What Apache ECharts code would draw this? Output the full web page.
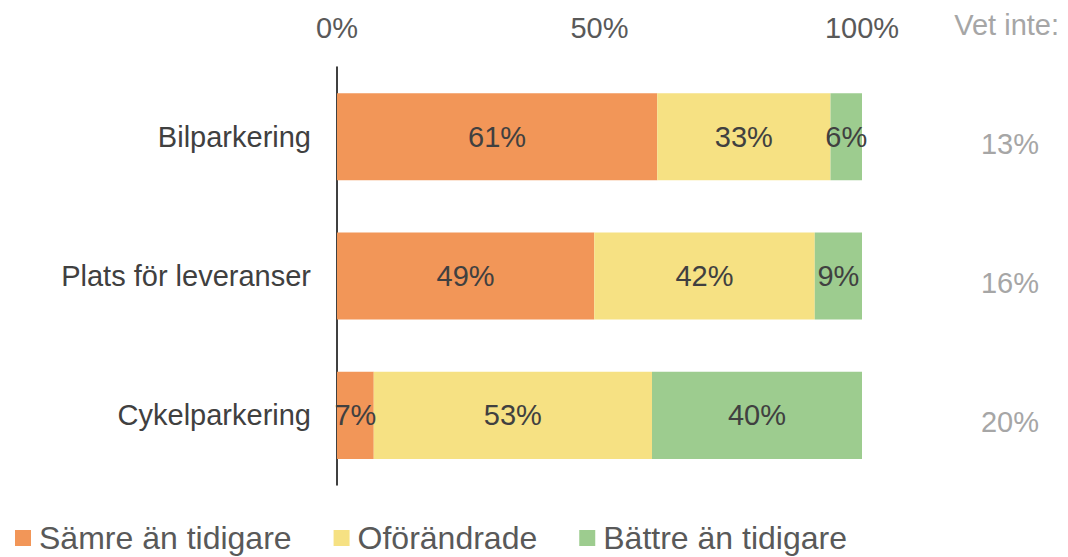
<!DOCTYPE html>
<html>
<head>
<meta charset="utf-8">
<script src="https://cdn.jsdelivr.net/npm/echarts@6/dist/echarts.min.js"></script>
<style>
  html, body { margin: 0; padding: 0; background: #fff; }
  #chart { width: 1068px; height: 557px; }
</style>
</head>
<body>
<div id="chart"></div>
<script>
// kategorier och värden (procent)
const categories = ['Bilparkering', 'Plats för leveranser', 'Cykelparkering'];
const samre = [61, 49, 7];
const oforandrade = [33, 42, 53];
const battre = [6, 9, 40];
const vetInte = [13, 16, 20];
const xTicks = [0, 50, 100];

const FONT = '"Liberation Sans", Arial, sans-serif';
const chart = echarts.init(document.getElementById('chart'), null, {renderer: 'svg'});

const barLabel = {
  show: true,
  position: 'inside',
  formatter: p => p.value + '%',
  color: '#404040',
  fontSize: 29,
  fontFamily: FONT
};

function bar(name, data, color) {
  return {
    name: name,
    type: 'bar',
    stack: 'tot',
    data: data,
    barCategoryGap: '37.5%',
    itemStyle: {color: color},
    label: barLabel,
    emphasis: {disabled: true}
  };
}

chart.setOption({
  animation: false,
  textStyle: {fontFamily: FONT},
  title: {
    text: 'Vet inte:',
    right: 4,
    top: 5,
    textStyle: {color: '#a6a6a6', fontSize: 29, fontWeight: 'normal', fontFamily: FONT}
  },
  grid: {left: 337, right: 206, top: 67, bottom: 72},
  legend: {
    left: 10,
    bottom: -2,
    icon: 'rect',
    itemWidth: 16,
    itemHeight: 16,
    itemGap: 42,
    selectedMode: false,
    textStyle: {color: '#595959', fontSize: 32, fontFamily: FONT, padding: [0, 0, 0, 3]},
    data: ['Sämre än tidigare', 'Oförändrade', 'Bättre än tidigare']
  },
  xAxis: {
    type: 'value',
    position: 'top',
    min: xTicks[0],
    max: xTicks[xTicks.length - 1],
    interval: 50,
    axisLine: {show: false},
    axisTick: {show: false},
    splitLine: {show: false},
    axisLabel: {
      formatter: v => v + '%',
      color: '#595959',
      fontSize: 29,
      fontFamily: FONT,
      margin: 25
    }
  },
  yAxis: [{
    type: 'category',
    inverse: true,
    data: categories,
    axisLine: {show: true, lineStyle: {color: '#000', width: 1.5}},
    axisTick: {show: false},
    axisLabel: {color: '#404040', fontSize: 29, fontFamily: FONT, margin: 26}
  }, {
    type: 'category',
    inverse: true,
    position: 'right',
    data: vetInte,
    axisLine: {show: false},
    axisTick: {show: false},
    axisLabel: {
      formatter: v => '{v|' + v + '%}',
      align: 'center',
      margin: 148,
      rich: {
        v: {color: '#a6a6a6', fontSize: 29, fontFamily: FONT, padding: [14, 0, 0, 0]}
      }
    }
  }],
  series: [
    bar('Sämre än tidigare', samre, '#f29658'),
    bar('Oförändrade', oforandrade, '#f6e183'),
    bar('Bättre än tidigare', battre, '#9dcc8f')
  ]
});
</script>
</body>
</html>
